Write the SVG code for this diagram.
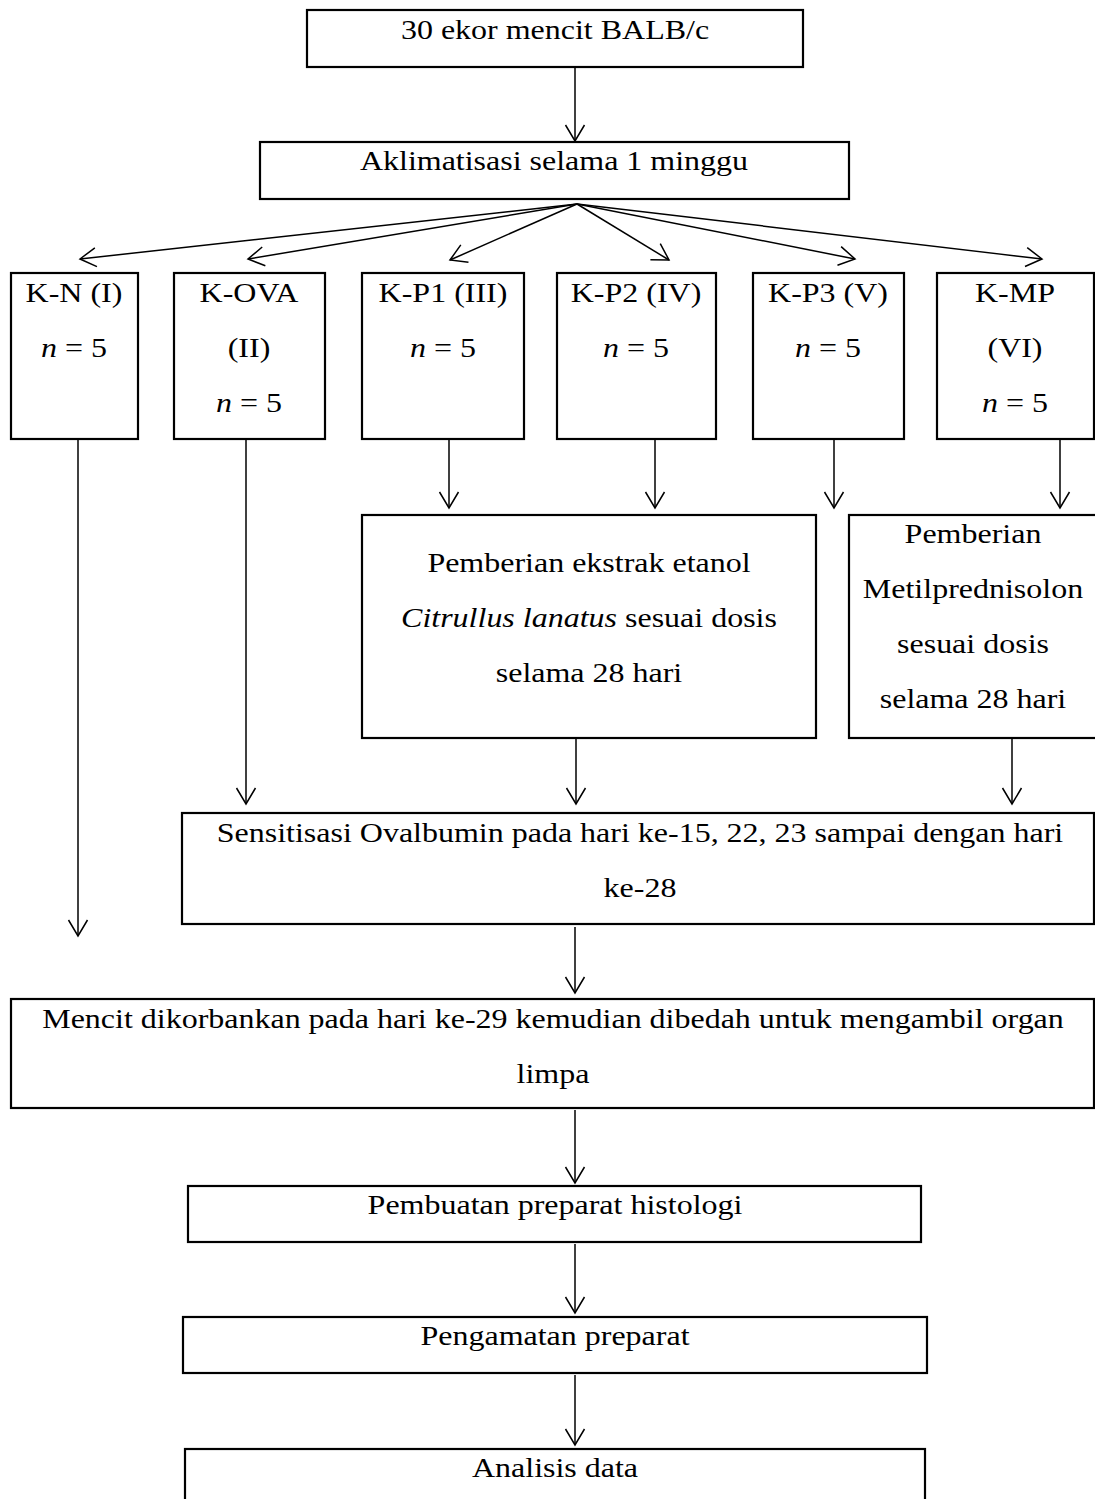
<svg xmlns="http://www.w3.org/2000/svg" width="1095" height="1499" viewBox="0 0 1095 1499">
<defs>
<marker id="arr" markerUnits="userSpaceOnUse" markerWidth="40" markerHeight="40" viewBox="-20 -20 40 40" refX="0" refY="0" orient="auto">
<path d="M-16,-9.5 L0,0 L-16,9.5" fill="none" stroke="#000" stroke-width="1.5"/>
</marker>
</defs>
<style>
rect{fill:#fff;stroke:#000;stroke-width:2.2}
text{font-family:"Liberation Serif","Times New Roman",serif;font-size:28px;fill:#000;text-anchor:middle}
.c line{stroke:#000;stroke-width:1.5;marker-end:url(#arr)}
.i{font-style:italic}
</style>
<rect width="1095" height="1499" style="fill:#fff;stroke:none"/>
<g id="n1"><rect x="307" y="10" width="496" height="57"/><text transform="translate(555 39) scale(1.143 1)">30 ekor mencit BALB/c</text></g>
<g id="n2"><rect x="260" y="142" width="589" height="57"/><text transform="translate(554 170) scale(1.143 1)">Aklimatisasi selama 1 minggu</text></g>
<g id="kn"><rect x="11" y="273" width="127" height="166"/><text transform="translate(74 302) scale(1.143 1)">K-N (I)</text><text transform="translate(74 357) scale(1.143 1)"><tspan class="i">n</tspan> = 5</text></g>
<g id="kova"><rect x="174" y="273" width="151" height="166"/><text transform="translate(249 302) scale(1.143 1)">K-OVA</text><text transform="translate(249 357) scale(1.143 1)">(II)</text><text transform="translate(249 412) scale(1.143 1)"><tspan class="i">n</tspan> = 5</text></g>
<g id="kp1"><rect x="362" y="273" width="162" height="166"/><text transform="translate(443 302) scale(1.143 1)">K-P1 (III)</text><text transform="translate(443 357) scale(1.143 1)"><tspan class="i">n</tspan> = 5</text></g>
<g id="kp2"><rect x="557" y="273" width="159" height="166"/><text transform="translate(636 302) scale(1.143 1)">K-P2 (IV)</text><text transform="translate(636 357) scale(1.143 1)"><tspan class="i">n</tspan> = 5</text></g>
<g id="kp3"><rect x="753" y="273" width="151" height="166"/><text transform="translate(828 302) scale(1.143 1)">K-P3 (V)</text><text transform="translate(828 357) scale(1.143 1)"><tspan class="i">n</tspan> = 5</text></g>
<g id="kmp"><rect x="937" y="273" width="157" height="166"/><text transform="translate(1015 302) scale(1.143 1)">K-MP</text><text transform="translate(1015 357) scale(1.143 1)">(VI)</text><text transform="translate(1015 412) scale(1.143 1)"><tspan class="i">n</tspan> = 5</text></g>
<g id="pe"><rect x="362" y="515" width="454" height="223"/><text transform="translate(589 572) scale(1.143 1)">Pemberian ekstrak etanol</text><text transform="translate(589 627) scale(1.143 1)"><tspan class="i">Citrullus lanatus</tspan> sesuai dosis</text><text transform="translate(589 682) scale(1.143 1)">selama 28 hari</text></g>
<g id="pm"><rect x="849" y="515" width="248" height="223"/><text transform="translate(973 543) scale(1.143 1)">Pemberian</text><text transform="translate(973 598) scale(1.143 1)">Metilprednisolon</text><text transform="translate(973 653) scale(1.143 1)">sesuai dosis</text><text transform="translate(973 708) scale(1.143 1)">selama 28 hari</text></g>
<g id="sens"><rect x="182" y="813" width="912" height="111"/><text transform="translate(640 842) scale(1.143 1)">Sensitisasi Ovalbumin pada hari ke-15, 22, 23 sampai dengan hari</text><text transform="translate(640 897) scale(1.143 1)">ke-28</text></g>
<g id="mencit"><rect x="11" y="999" width="1083" height="109"/><text transform="translate(553 1028) scale(1.143 1)">Mencit dikorbankan pada hari ke-29 kemudian dibedah untuk mengambil organ</text><text transform="translate(553 1083) scale(1.143 1)">limpa</text></g>
<g id="pembuatan"><rect x="188" y="1186" width="733" height="56"/><text transform="translate(555 1214) scale(1.143 1)">Pembuatan preparat histologi</text></g>
<g id="pengamatan"><rect x="183" y="1317" width="744" height="56"/><text transform="translate(555 1345) scale(1.143 1)">Pengamatan preparat</text></g>
<g id="analisis"><rect x="185" y="1449" width="740" height="56"/><text transform="translate(555 1477) scale(1.143 1)">Analisis data</text></g>
<g id="connectors" class="c">
<line x1="575" y1="67" x2="575" y2="141"/>
<line x1="577" y1="204" x2="80" y2="259"/>
<line x1="577" y1="204" x2="248" y2="259"/>
<line x1="577" y1="204" x2="450" y2="260"/>
<line x1="577" y1="204" x2="669" y2="260"/>
<line x1="577" y1="204" x2="855" y2="259"/>
<line x1="577" y1="204" x2="1042" y2="259"/>
<line x1="78" y1="440" x2="78" y2="936"/>
<line x1="246" y1="440" x2="246" y2="804"/>
<line x1="449" y1="440" x2="449" y2="508"/>
<line x1="655" y1="440" x2="655" y2="508"/>
<line x1="834" y1="440" x2="834" y2="508"/>
<line x1="1060" y1="440" x2="1060" y2="508"/>
<line x1="576" y1="739" x2="576" y2="804"/>
<line x1="1012" y1="739" x2="1012" y2="804"/>
<line x1="575" y1="927" x2="575" y2="993"/>
<line x1="575" y1="1110" x2="575" y2="1183"/>
<line x1="575" y1="1244" x2="575" y2="1313"/>
<line x1="575" y1="1375" x2="575" y2="1445"/>
</g>
</svg>
